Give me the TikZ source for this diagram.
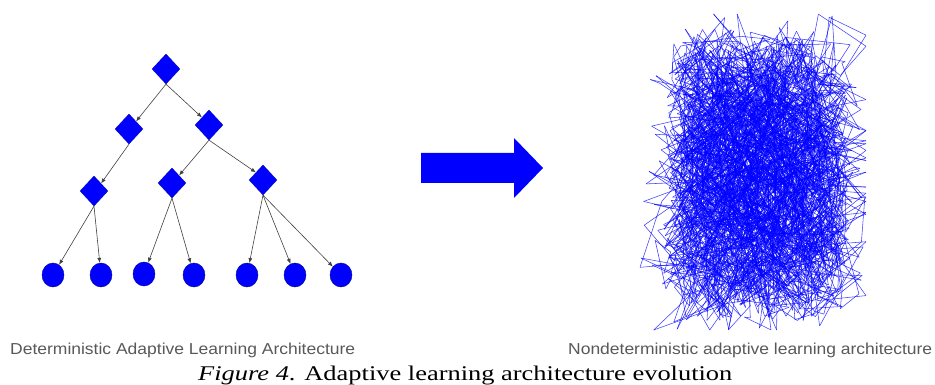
\documentclass[tikz,border=0pt]{standalone}
\usepackage{fontspec}
\setmainfont{Liberation Serif}
\newfontfamily\capsans{Liberation Sans}
\usetikzlibrary{shapes.geometric,arrows.meta}
\begin{document}
\begin{tikzpicture}[x=1pt,y=-1pt,
  inner/.style={diamond,fill=blue,draw=blue!70!black,line width=0.3pt,minimum width=28pt,minimum height=30pt,inner sep=0pt},
  leaf/.style={ellipse,fill=blue,draw=blue!60!black,line width=0.4pt,minimum width=22pt,minimum height=24pt,inner sep=0pt},
  edge/.style={draw=black!75,line width=0.6pt,-{Latex[length=5pt,width=4pt]}},
  mesh/.style={draw=blue,line width=0.55pt,opacity=0.75},
  subcap/.style={text=black!65,font=\capsans,inner sep=0pt,anchor=base west},
  figcap/.style={text=black,inner sep=0pt,anchor=base west}]
\useasboundingbox (0,0) rectangle (935,385);
% tree
\node[inner] (r) at (166,69) {};
\node[inner] (a) at (129,129) {};
\node[inner] (b) at (209,125) {};
\node[inner] (c) at (94,191) {};
\node[inner] (d) at (172,183) {};
\node[inner] (e) at (263,180) {};
\node[leaf] (l1) at (53,275) {};
\node[leaf] (l2) at (101,275) {};
\node[leaf] (l3) at (144,274) {};
\node[leaf] (l4) at (194,275) {};
\node[leaf] (l5) at (247,275) {};
\node[leaf] (l6) at (295,275) {};
\node[leaf] (l7) at (341,275) {};
\draw[edge] (r.south) -- (a.north east);
\draw[edge] (r.south) -- (b.north west);
\draw[edge] (a.south) -- (c.north east);
\draw[edge] (b.south) -- (d.north east);
\draw[edge] (b.south) -- (e.north west);
\draw[edge] (c.south) -- (l1);
\draw[edge] (c.south) -- (l2);
\draw[edge] (d.south) -- (l3);
\draw[edge] (d.south) -- (l4);
\draw[edge] (e.south) -- (l5);
\draw[edge] (e.south) -- (l6);
\draw[edge] (e.south) -- (l7);
% big arrow
\fill[blue] (421,153) -- (514,153) -- (514,138) -- (543,168) -- (514,198) -- (514,183) -- (421,183) -- cycle;
% random mesh
\pgfmathsetseed{4242}
\xdef\px{760}\xdef\py{172}
\foreach \i in {1,...,4000}{
  \pgfmathsetmacro\nx{max(640,min(866,\px + 28*rand + 50*rand^5 - 1.0*(max(0,\px-822)-max(0,695-\px)) - 0.03*(\px-758)))}
  \pgfmathsetmacro\ny{max(14,min(330,\py + 42*rand + 40*rand^5 - 1.0*(max(0,\py-282)-max(0,68-\py)) - 0.03*(\py-175)))}
  \draw[mesh] (\px,\py) -- (\nx,\ny);
  \xdef\px{\nx}\xdef\py{\ny}
}
% captions
\node[subcap] (c1) at (10,354) {\resizebox{345pt}{11.5pt}{Deterministic Adaptive Learning Architecture}};
\node[subcap] (c2) at (568,354) {\resizebox{364pt}{11.5pt}{Nondeterministic adaptive learning architecture}};
\node[figcap] (c3) at (198,380) {\resizebox{534pt}{14.5pt}{\textit{Figure 4}. Adaptive learning architecture evolution}};
\end{tikzpicture}
\end{document}
